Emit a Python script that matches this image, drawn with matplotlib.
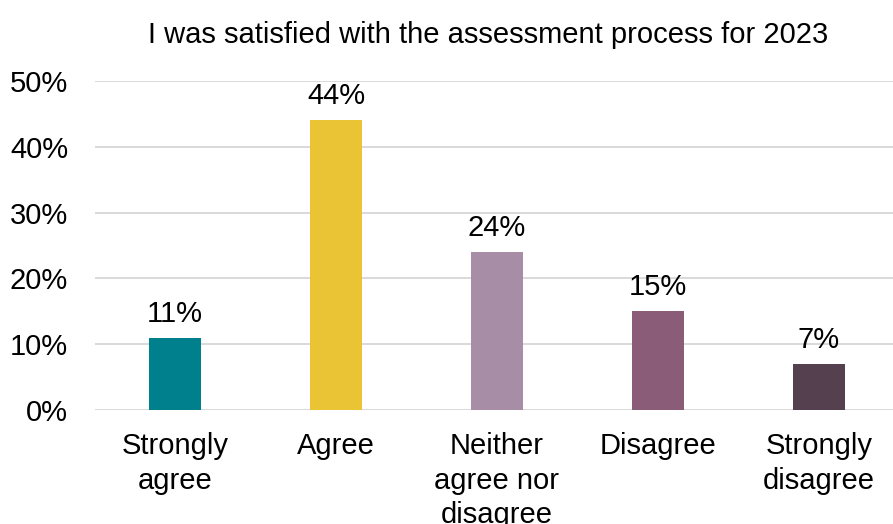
import matplotlib
matplotlib.use("Agg")
import matplotlib.pyplot as plt
from matplotlib.ticker import PercentFormatter

# survey responses
categories = ["Strongly\nagree", "Agree", "Neither\nagree nor\ndisagree", "Disagree", "Strongly\ndisagree"]
shares = [0.11, 0.44, 0.24, 0.15, 0.07]
colours = ["#00808D", "#EAC435", "#A78DA5", "#8A5C78", "#55404F"]
title = "I was satisfied with the assessment process for 2023"

plt.rcParams["font.family"] = ["Liberation Sans", "DejaVu Sans"]

fig = plt.figure(figsize=(8.93, 5.24), dpi=100)
W, H = 893, 524
ax = fig.add_axes([94.5 / W, (H - 410) / H, (W - 94.5) / W, (410 - 81) / H])

x = range(len(categories))
bars = ax.bar(x, shares, width=0.32, color=colours, zorder=3)

ax.set_xlim(-0.5, 4.5 - 6.5 / 161)
ax.set_ylim(0, 0.5)
ax.set_yticks([0, 0.1, 0.2, 0.3, 0.4, 0.5])
ax.yaxis.set_major_formatter(PercentFormatter(1.0, decimals=0))
ax.grid(axis="y", color="#d9d9d9", linewidth=1.4, zorder=0)
ax.set_axisbelow(True)
for s in ax.spines.values():
    s.set_visible(False)

ax.set_xticks(list(x))
ax.set_xticklabels(categories, linespacing=1.3)
ax.tick_params(axis="x", length=0, pad=16, labelsize=21)
ax.tick_params(axis="y", length=0, pad=19, labelsize=21)

for b, v in zip(bars, shares):
    ax.annotate(f"{v:.0%}", (b.get_x() + b.get_width() / 2, v),
                xytext=(0, 16), textcoords="offset pixels",
                ha="center", va="baseline", fontsize=21)

fig.text((147 + 830) / 2 / W, 1 - 35 / H, title, ha="center", va="center", fontsize=21)

fig.savefig("out.png", dpi=100)
